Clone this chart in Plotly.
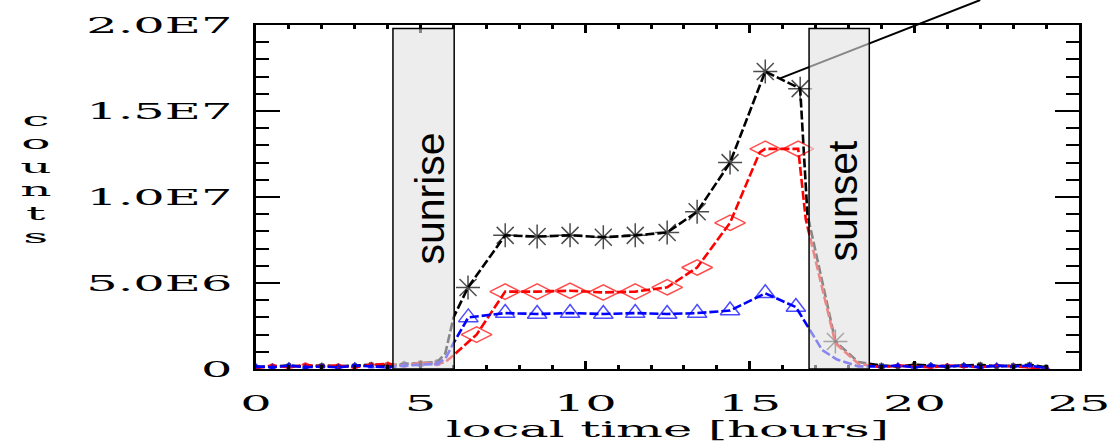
import plotly.graph_objects as go

# ---------------- data (hours, counts) ----------------
night_am = [0.0, 0.5, 1.0, 1.5, 2.0, 2.5, 3.0, 3.5, 4.0, 4.5, 5.0, 5.5]
night_pm = [19.0, 19.5, 20.0, 20.5, 21.0, 21.5, 22.0, 22.5, 23.0, 23.5, 24.0]

# hourly daytime samples (drawn with symbols)
black_day_x = [6.44, 7.57, 8.54, 9.54, 10.55, 11.52, 12.49, 13.4, 14.4, 15.47, 16.53, 17.6]
black_day_y = [4.74e6, 7.77e6, 7.7e6, 7.77e6, 7.66e6, 7.77e6, 7.94e6, 9.14e6, 12.0e6, 17.3e6, 16.3e6, 1.6e6]
# transition samples around sunrise / sunset (line only)
black_edge_x = [5.75, 6.0, 16.75, 18.3]
black_edge_y = [0.9e6, 3.0e6, 9.0e6, 0.4e6]
black_am_y = [0.10e6, 0.15e6, 0.20e6, 0.15e6, 0.20e6, 0.15e6, 0.20e6, 0.25e6, 0.20e6, 0.30e6, 0.35e6, 0.40e6]
black_pm_y = [0.20e6, 0.15e6, 0.25e6, 0.20e6, 0.15e6, 0.20e6, 0.25e6, 0.15e6, 0.20e6, 0.25e6, 0.10e6]

red_day_x = [6.7, 7.57, 8.54, 9.54, 10.55, 11.52, 12.49, 13.4, 14.4, 15.47, 16.47]
red_day_y = [2.0e6, 4.5e6, 4.5e6, 4.55e6, 4.45e6, 4.5e6, 4.75e6, 5.9e6, 8.5e6, 12.8e6, 12.8e6]
red_edge_x = [5.75, 6.0, 15.3, 16.7, 17.6, 18.3]
red_edge_y = [0.4e6, 0.8e6, 12.6e6, 8.7e6, 1.5e6, 0.3e6]
red_am_y = [0.05e6, 0.20e6, 0.10e6, 0.25e6, 0.15e6, 0.20e6, 0.10e6, 0.25e6, 0.30e6, 0.20e6, 0.35e6, 0.30e6]
red_pm_y = [0.10e6, 0.20e6, 0.15e6, 0.10e6, 0.20e6, 0.15e6, 0.10e6, 0.20e6, 0.15e6, 0.10e6, 0.0]

blue_day_x = [6.45, 7.57, 8.54, 9.54, 10.55, 11.52, 12.49, 13.4, 14.4, 15.47, 16.4]
blue_day_y = [3.0e6, 3.25e6, 3.2e6, 3.25e6, 3.2e6, 3.25e6, 3.2e6, 3.25e6, 3.4e6, 4.4e6, 3.6e6]
blue_edge_x = [5.75, 6.0, 16.9, 17.2, 17.65, 18.3]
blue_edge_y = [0.6e6, 1.5e6, 2.0e6, 1.1e6, 0.55e6, 0.15e6]
blue_am_y = [0.15e6, 0.10e6, 0.20e6, 0.10e6, 0.15e6, 0.10e6, 0.20e6, 0.15e6, 0.10e6, 0.20e6, 0.25e6, 0.30e6]
blue_pm_y = [0.15e6, 0.20e6, 0.10e6, 0.20e6, 0.15e6, 0.20e6, 0.10e6, 0.20e6, 0.15e6, 0.20e6, 0.05e6]

y_tickvals = [0, 5e6, 1e7, 1.5e7, 2e7]
y_ticktext = ["0", "5.0E6", "1.0E7", "1.5E7", "2.0E7"]
x_tickvals = [0, 5, 10, 15, 20, 25]

sunrise_span = (4.16, 6.02)
sunset_span = (16.8, 18.63)
box_top = 1.98e7
pointer_from = (15.92, 16.9e6)
pointer_to = (22.0, 21.45e6)

X_RANGE = [0, 25]
Y_RANGE = [0, 2e7]

IDL_FONT = "DejaVu Serif"

series = [
    ("black", black_am_y, black_day_x, black_day_y, black_edge_x, black_edge_y, black_pm_y, "asterisk-open", 20),
    ("red", red_am_y, red_day_x, red_day_y, red_edge_x, red_edge_y, red_pm_y, "diamond-wide-open", 22),
    ("blue", blue_am_y, blue_day_x, blue_day_y, blue_edge_x, blue_edge_y, blue_pm_y, "triangle-up-open", 17),
]

fig = go.Figure()
for color, am_y, dx, dy, ex, ey, pm_y, sym, big in series:
    # connecting line through every sample, in time order
    pts = sorted(zip(night_am + dx + ex + night_pm, am_y + dy + ey + pm_y))
    fig.add_trace(go.Scatter(
        x=[p[0] for p in pts], y=[p[1] for p in pts], mode="lines",
        line=dict(color=color, width=2.6, dash="9px,3px"),
        showlegend=False, hoverinfo="skip",
    ))
    # symbols: small at night, large for the hourly daytime samples
    mx = night_am + dx + night_pm
    my = am_y + dy + pm_y
    sizes = [5] * len(night_am) + [big] * len(dx) + [5] * len(night_pm)
    fig.add_trace(go.Scatter(
        x=mx, y=my, mode="markers",
        marker=dict(symbol=sym, size=sizes, color=color, line=dict(color=color, width=1.5)),
        showlegend=False, hoverinfo="skip",
    ))

def px(x):
    return (x - X_RANGE[0]) / (X_RANGE[1] - X_RANGE[0])

def py(y):
    return (y - Y_RANGE[0]) / (Y_RANGE[1] - Y_RANGE[0])

shapes = [
    dict(type="line", xref="paper", yref="paper",
         x0=px(pointer_from[0]), y0=py(pointer_from[1]),
         x1=px(pointer_to[0]), y1=py(pointer_to[1]),
         line=dict(color="black", width=2), layer="above"),
]
for a, b in (sunrise_span, sunset_span):
    shapes.append(dict(type="rect", xref="x", yref="y", x0=a, x1=b, y0=0, y1=box_top,
                       fillcolor="rgba(225,225,225,0.6)", line=dict(color="black", width=1.5),
                       layer="above"))

annotations = [
    dict(text="sunrise", x=5.28, y=9.9e6, xref="x", yref="y", showarrow=False, textangle=-90,
         font=dict(family="Liberation Sans, Arial", size=41, color="black")),
    dict(text="sunset", x=17.83, y=9.8e6, xref="x", yref="y", showarrow=False, textangle=-90,
         font=dict(family="Liberation Sans, Arial", size=41, color="black")),
    dict(text="<br>".join(list("counts")), xref="paper", yref="paper",
         x=(36 - 256) / 823, y=0.556, xanchor="center", yanchor="middle", showarrow=False,
         font=dict(family=IDL_FONT, size=18, color="black")),
]

tickfont = dict(family=IDL_FONT, size=23, color="black")
fig.update_layout(
    width=1115, height=448,
    margin=dict(l=256, r=36, t=22, b=75),
    paper_bgcolor="white", plot_bgcolor="white",
    shapes=shapes, annotations=annotations,
    xaxis=dict(range=X_RANGE, tickvals=x_tickvals, ticks="inside", ticklen=8, tickwidth=3,
               tickcolor="black", minor=dict(dtick=1, ticks="inside", ticklen=4, tickwidth=3, tickcolor="black"),
               showline=True, linewidth=2, linecolor="black", mirror="ticks",
               showgrid=False, zeroline=False, tickfont=tickfont, ticklabelstandoff=12,
               title=dict(text="local time [hours]", font=dict(family=IDL_FONT, size=23, color="black"), standoff=4)),
    yaxis=dict(range=Y_RANGE, tickvals=y_tickvals, ticktext=y_ticktext, ticks="inside", ticklen=24,
               tickwidth=1.5, tickcolor="black",
               minor=dict(dtick=1e6, ticks="inside", ticklen=13, tickwidth=1.5, tickcolor="black"),
               showline=True, linewidth=3, linecolor="black", mirror="ticks",
               showgrid=False, zeroline=False, tickfont=tickfont, ticklabelstandoff=16),
)

# IDL-style output is horizontally stretched: widen the serif texts (still real SVG text)
post_js = """
try {
  var gd = document.getElementById('{plot_id}');
  var texts = gd.querySelectorAll('text');
  texts.forEach(function(t){
    var ff = (t.style.fontFamily || '');
    if (ff.indexOf('DejaVu Serif') < 0) return;
    var factor = t.classList.contains('annotation-text') ? 2.7 : 2.15;
    var lines = t.querySelectorAll('tspan.line');
    var targets = lines.length ? lines : [t];
    targets.forEach(function(el){
      var L = el.getComputedTextLength();
      if (L > 0) {
        el.setAttribute('textLength', (L * factor).toFixed(1));
        el.setAttribute('lengthAdjust', 'spacingAndGlyphs');
      }
    });
  });
} catch (e) {}
"""

fig.write_html("out.html", config={"displayModeBar": False}, post_script=post_js)
